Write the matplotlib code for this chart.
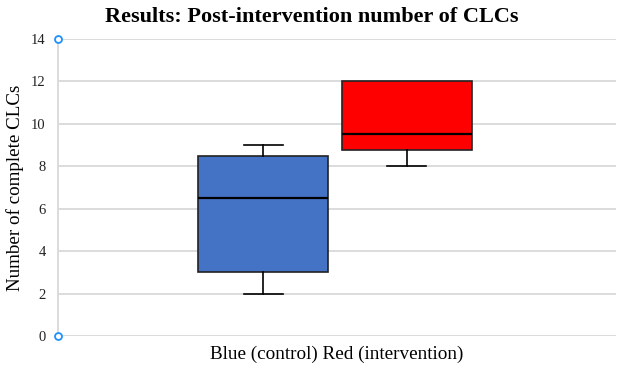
import matplotlib

matplotlib.use("Agg")

import matplotlib.pyplot as plt

# box statistics
groups = ["Blue (control)", "Red (intervention)"]
whislo = [2.0, 8.0]
q1 = [3.0, 8.75]
med = [6.5, 9.5]
q3 = [8.5, 12.0]
whishi = [9.0, 12.0]
fills = ["#4472C4", "#FF0000"]
yticks = [0, 2, 4, 6, 8, 10, 12, 14]

plt.rcParams.update({"font.family": ["Liberation Serif", "DejaVu Serif"]})

fig = plt.figure(figsize=(6.24, 3.72), dpi=100)
ax = fig.add_axes([0.093, 0.097, 0.894, 0.798])

stats = [
    {"label": g, "whislo": lo, "q1": a, "med": m, "q3": b, "whishi": hi, "fliers": []}
    for g, lo, a, m, b, hi in zip(groups, whislo, q1, med, q3, whishi)
]
bp = ax.bxp(
    stats,
    positions=[0.368, 0.625],
    widths=0.233,
    capwidths=0.07,
    patch_artist=True,
    showfliers=False,
    boxprops={"edgecolor": "#222222", "linewidth": 1.2},
    medianprops={"color": "black", "linewidth": 1.6},
    whiskerprops={"color": "black", "linewidth": 1.2},
    capprops={"color": "black", "linewidth": 1.2},
    zorder=3,
)
for patch, c in zip(bp["boxes"], fills):
    patch.set_facecolor(c)
# no cap drawn where the whisker has zero length
for i, (b, hi) in enumerate(zip(q3, whishi)):
    if hi <= b:
        bp["caps"][2 * i + 1].set_visible(False)

ax.set_xlim(0, 1)
ax.set_ylim(0, 14)
ax.set_yticks(yticks)
ax.set_xticks([])
ax.grid(axis="y", color="#d9d9d9", linewidth=1.3, zorder=0)
ax.set_axisbelow(True)
for s in ["top", "right", "bottom"]:
    ax.spines[s].set_visible(False)
ax.spines["left"].set_color("#d9d9d9")
ax.spines["left"].set_linewidth(1.3)
ax.tick_params(axis="y", length=0, pad=9, labelsize=10.5, labelcolor="#222222")

# endpoint handles on the y axis
ax.plot([0, 0], [0, 14], linestyle="none", marker="o", markersize=5,
        markerfacecolor="white", markeredgecolor="#1E90FF", markeredgewidth=1.3,
        clip_on=False, zorder=5)

ax.set_ylabel("Number of complete CLCs", fontsize=13.7, labelpad=5)
ax.set_xlabel("Blue (control) Red (intervention)", fontsize=13.8, labelpad=7)
fig.suptitle("Results: Post-intervention number of CLCs", fontsize=16,
             fontweight="bold", x=0.5, y=0.982)

fig.savefig("out.png", dpi=100)
